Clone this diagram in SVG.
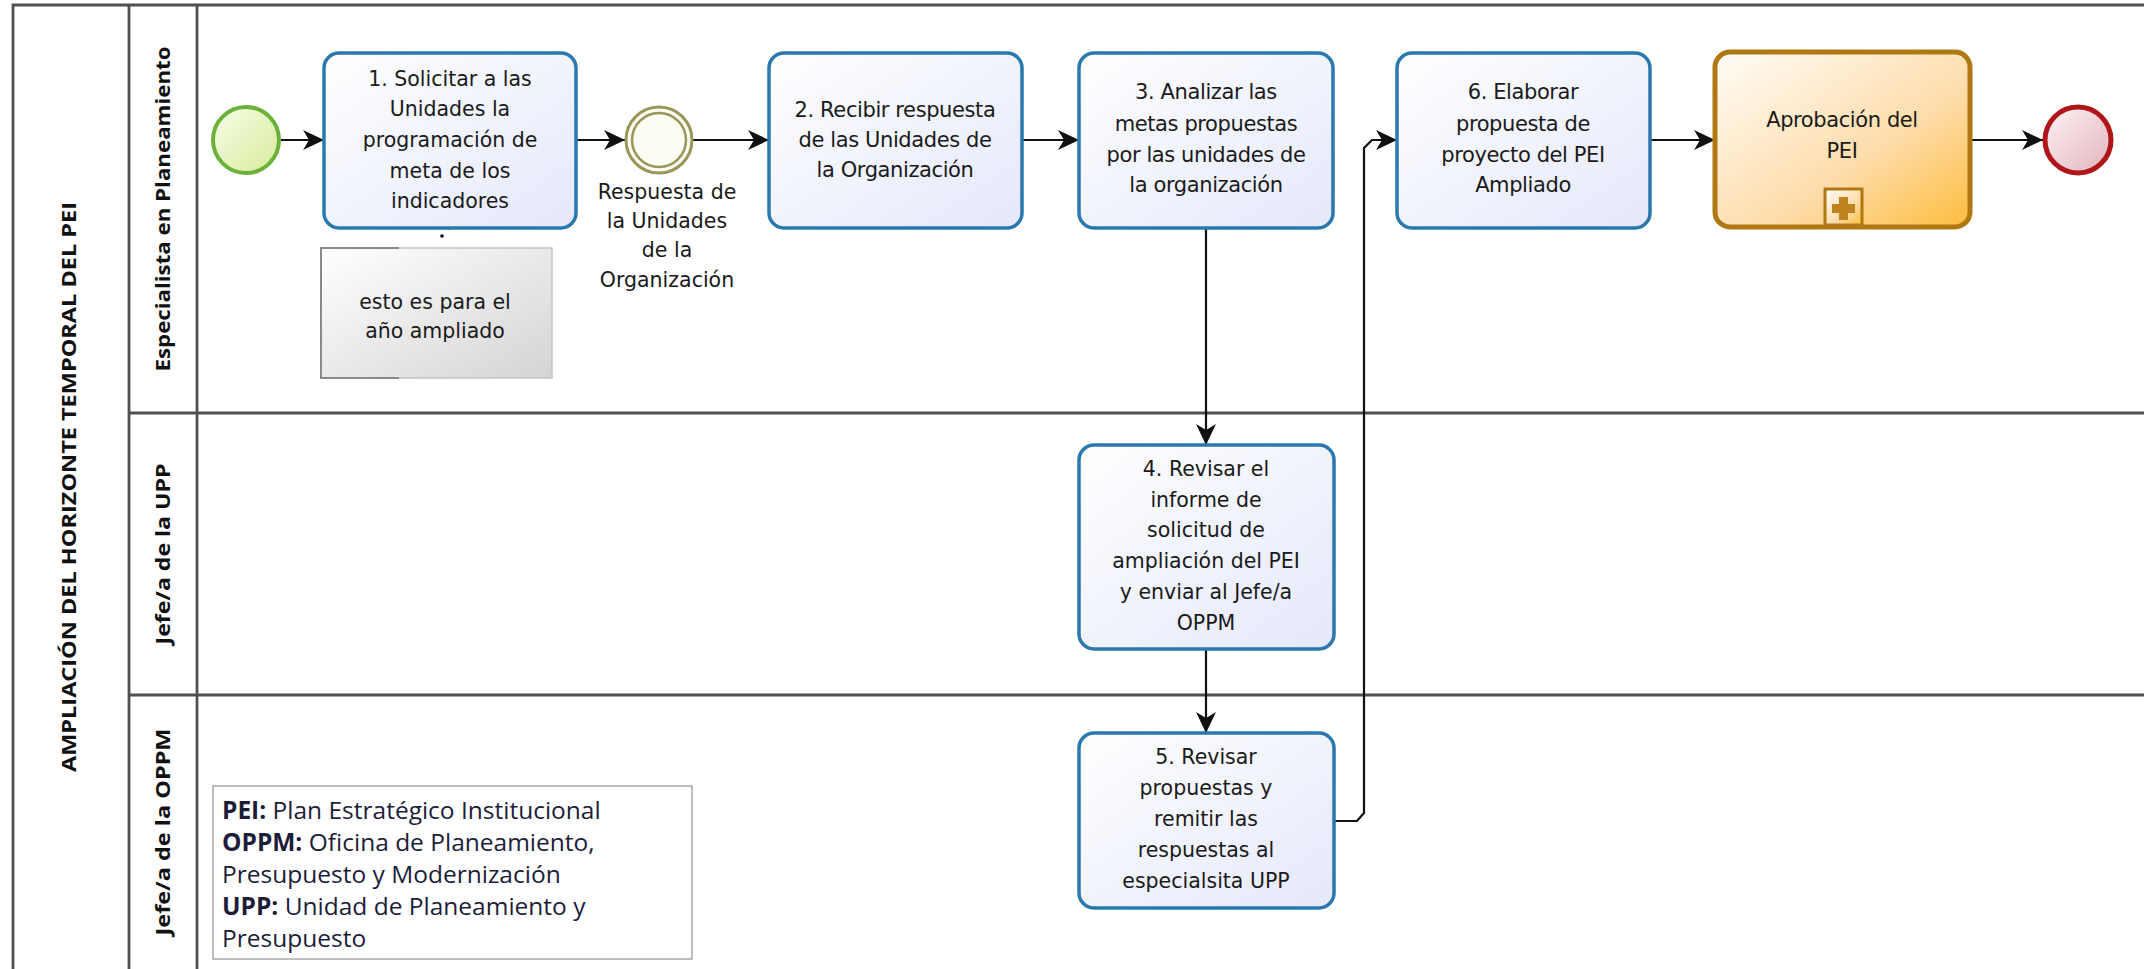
<svg xmlns="http://www.w3.org/2000/svg" width="2144" height="969" viewBox="0 0 2144 969">
<style>
.lane{stroke:#505050;stroke-width:2.8;fill:none}
.task{fill:url(#gTask);stroke:#2a78ad;stroke-width:3.5}
.tt{font-family:"DejaVu Sans",sans-serif;font-size:20.5px;fill:#1a1a1a;text-anchor:middle}
.tc{font-family:"DejaVu Sans",sans-serif;font-size:21px;fill:#1a1a1a;text-anchor:middle;letter-spacing:-0.4px}
.lbl{font-family:"Open Sans","DejaVu Sans",sans-serif;font-weight:bold;font-size:20px;fill:#111;text-anchor:middle}
.leg{font-family:"Open Sans","DejaVu Sans",sans-serif;font-size:24.5px;fill:#1d1d3a}
.conn{stroke:#111;stroke-width:2.2;fill:none}
</style>
<defs>
<linearGradient id="gTask" x1="0" y1="0" x2="1" y2="1"><stop offset="0" stop-color="#ffffff"/><stop offset="1" stop-color="#e4e8fa"/></linearGradient>
<linearGradient id="gSub" x1="0" y1="0" x2="1" y2="1"><stop offset="0" stop-color="#fffdf8"/><stop offset="0.6" stop-color="#fedcaa"/><stop offset="1" stop-color="#fdbd3c"/></linearGradient>
<linearGradient id="gStart" x1="0" y1="0" x2="1" y2="1"><stop offset="0" stop-color="#f8fde8"/><stop offset="1" stop-color="#d6ec9a"/></linearGradient>
<linearGradient id="gEnd" x1="0" y1="0" x2="1" y2="1"><stop offset="0" stop-color="#fdf3f5"/><stop offset="1" stop-color="#e2b3bd"/></linearGradient>
<linearGradient id="gNote" x1="0" y1="0" x2="1" y2="1"><stop offset="0" stop-color="#ffffff"/><stop offset="1" stop-color="#d4d4d4"/></linearGradient>
<marker id="arr" markerUnits="userSpaceOnUse" markerWidth="24" markerHeight="24" refX="21" refY="10" orient="auto">
<path d="M0,0 L21,10 L0,20 L6,10 z" fill="#111"/>
</marker>
</defs>
<rect x="0" y="0" width="2144" height="969" fill="#ffffff"/>

<g id="pool">
<path class="lane" d="M13,969 L13,5 L2144,5"/>
<path class="lane" d="M129,5 L129,969"/>
<path class="lane" d="M197,5 L197,969"/>
<path class="lane" d="M129,413 L2144,413"/>
<path class="lane" d="M129,695 L2144,695"/>
<text class="lbl" transform="translate(76,487) rotate(-90)" textLength="570" lengthAdjust="spacingAndGlyphs">AMPLIACIÓN DEL HORIZONTE TEMPORAL DEL PEI</text>
<text class="lbl" transform="translate(170,209) rotate(-90)" textLength="325" lengthAdjust="spacingAndGlyphs">Especialista en Planeamiento</text>
<text class="lbl" transform="translate(170,554) rotate(-90)" textLength="181" lengthAdjust="spacingAndGlyphs">Jefe/a de la UPP</text>
<text class="lbl" transform="translate(170,832) rotate(-90)" textLength="207" lengthAdjust="spacingAndGlyphs">Jefe/a de la OPPM</text>
</g>

<g id="connectors">
<line class="conn" x1="281" y1="140" x2="324" y2="140" marker-end="url(#arr)"/>
<line class="conn" x1="577" y1="140" x2="625" y2="140" marker-end="url(#arr)"/>
<line class="conn" x1="693" y1="140" x2="769" y2="140" marker-end="url(#arr)"/>
<line class="conn" x1="1023" y1="140" x2="1079" y2="140" marker-end="url(#arr)"/>
<line class="conn" x1="1206" y1="229" x2="1206" y2="445" marker-end="url(#arr)"/>
<line class="conn" x1="1206" y1="650" x2="1206" y2="733" marker-end="url(#arr)"/>
<path class="conn" d="M1335,821 L1357,821 L1364,813 L1364,148 L1372,140 L1397,140" marker-end="url(#arr)"/>
<line class="conn" x1="1651" y1="140" x2="1715" y2="140" marker-end="url(#arr)"/>
<line class="conn" x1="1971" y1="140" x2="2043" y2="140" marker-end="url(#arr)"/>
<circle cx="449" cy="228" r="1.8" fill="#111"/>
<circle cx="442" cy="236" r="1.8" fill="#111"/>
</g>

<g id="start">
<circle cx="246" cy="140" r="33" fill="url(#gStart)" stroke="#6ab23a" stroke-width="4"/>
</g>

<g id="task1">
<rect class="task" x="324" y="53" width="252" height="175" rx="15"/>
<text class="tt" x="450" y="86">1. Solicitar a las</text>
<text class="tt" x="450" y="116">Unidades la</text>
<text class="tt" x="450" y="147">programación de</text>
<text class="tt" x="450" y="178">meta de los</text>
<text class="tt" x="450" y="208">indicadores</text>
</g>

<g id="note">
<rect x="321" y="248" width="231" height="130" fill="url(#gNote)" stroke="#c4c4c4" stroke-width="1.5"/>
<path d="M399,248 L321,248 L321,378 L399,378" fill="none" stroke="#8a8a8a" stroke-width="2"/>
<text class="tt" x="435" y="309">esto es para el</text>
<text class="tt" x="435" y="338">año ampliado</text>
</g>

<g id="event-respuesta">
<circle cx="659" cy="140" r="33" fill="#fdfcf2" stroke="#9a9558" stroke-width="3"/>
<circle cx="659" cy="140" r="27" fill="none" stroke="#9a9558" stroke-width="2.5"/>
<text class="tt" x="667" y="199">Respuesta de</text>
<text class="tt" x="667" y="228">la Unidades</text>
<text class="tt" x="667" y="257">de la</text>
<text class="tt" x="667" y="287">Organización</text>
</g>

<g id="task2">
<rect class="task" x="769" y="53" width="253" height="175" rx="15"/>
<text class="tc" x="895" y="117">2. Recibir respuesta</text>
<text class="tc" x="895" y="147">de las Unidades de</text>
<text class="tc" x="895" y="177">la Organización</text>
</g>

<g id="task3">
<rect class="task" x="1079" y="53" width="254" height="175" rx="15"/>
<text class="tc" x="1206" y="99">3. Analizar las</text>
<text class="tc" x="1206" y="131">metas propuestas</text>
<text class="tc" x="1206" y="162">por las unidades de</text>
<text class="tc" x="1206" y="192">la organización</text>
</g>

<g id="task4">
<rect class="task" x="1079" y="445" width="255" height="204" rx="15"/>
<text class="tt" x="1206" y="476">4. Revisar el</text>
<text class="tt" x="1206" y="507">informe de</text>
<text class="tt" x="1206" y="537">solicitud de</text>
<text class="tt" x="1206" y="568">ampliación del PEI</text>
<text class="tt" x="1206" y="599">y enviar al Jefe/a</text>
<text class="tt" x="1206" y="630">OPPM</text>
</g>

<g id="task5">
<rect class="task" x="1079" y="733" width="255" height="175" rx="15"/>
<text class="tt" x="1206" y="764">5. Revisar</text>
<text class="tt" x="1206" y="795">propuestas y</text>
<text class="tt" x="1206" y="826">remitir las</text>
<text class="tt" x="1206" y="857">respuestas al</text>
<text class="tt" x="1206" y="888">especialsita UPP</text>
</g>

<g id="task6">
<rect class="task" x="1397" y="53" width="253" height="175" rx="15"/>
<text class="tc" x="1523" y="99">6. Elaborar</text>
<text class="tc" x="1523" y="131">propuesta de</text>
<text class="tc" x="1523" y="162">proyecto del PEI</text>
<text class="tc" x="1523" y="192">Ampliado</text>
</g>

<g id="subprocess">
<rect x="1715" y="52" width="255" height="175" rx="15" fill="url(#gSub)" stroke="#b07812" stroke-width="5"/>
<rect x="1825" y="189" width="37" height="36" fill="url(#gSub)" stroke="#b07812" stroke-width="3"/>
<path d="M1839,197 h9 v7 h7 v9 h-7 v7 h-9 v-7 h-7 v-9 h7 z" fill="#c0821e"/>
<text class="tc" x="1842" y="127">Aprobación del</text>
<text class="tc" x="1842" y="158">PEI</text>
</g>

<g id="end">
<circle cx="2078" cy="140" r="33" fill="url(#gEnd)" stroke="#b01519" stroke-width="5"/>
</g>

<g id="legend">
<rect x="213" y="786" width="479" height="173" fill="#ffffff" stroke="#a8a8a8" stroke-width="1.5"/>
<text class="leg" x="222" y="819"><tspan font-weight="bold">PEI:</tspan> Plan Estratégico Institucional</text>
<text class="leg" x="222" y="851"><tspan font-weight="bold">OPPM:</tspan> Oficina de Planeamiento,</text>
<text class="leg" x="222" y="883">Presupuesto y Modernización</text>
<text class="leg" x="222" y="915"><tspan font-weight="bold">UPP:</tspan> Unidad de Planeamiento y</text>
<text class="leg" x="222" y="947">Presupuesto</text>
</g>
</svg>
